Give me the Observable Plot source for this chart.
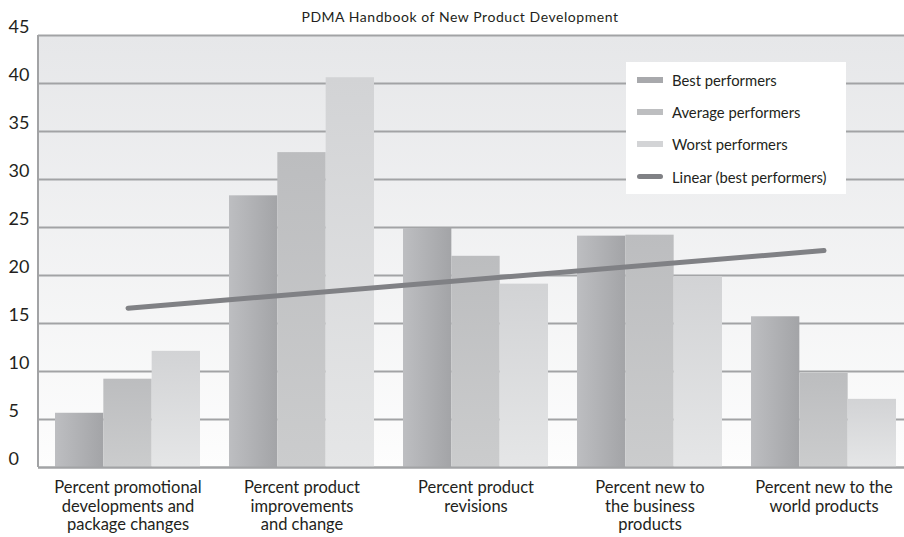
<!DOCTYPE html>
<html>
<head>
<meta charset="utf-8">
<script src="https://cdn.jsdelivr.net/npm/d3@7"></script>
<script src="https://cdn.jsdelivr.net/npm/@observablehq/plot@0.6"></script>
<style>
  body { margin: 0; background: #fff; font-family: Lato, "Open Sans", sans-serif; color: #231f20; }
  #wrap { position: relative; width: 904px; height: 537px; overflow: hidden; }
  #title { position: absolute; left: 8px; top: 8px; width: 904px; text-align: center; font-size: 14px; letter-spacing: 0.55px; line-height: 18px; z-index: 2; }
  #chart { position: absolute; left: 0; top: 0; }
  #legend { position: absolute; left: 626px; top: 62px; width: 220px; height: 132px; background: #fff; z-index: 2; }
  .item { position: absolute; left: 0; height: 20px; width: 220px; font-size: 14.8px; line-height: 20px; }
  .sw { position: absolute; left: 11px; top: 7px; width: 26px; height: 6px; }
  .lab { position: absolute; left: 46px; top: 0; white-space: nowrap; }
</style>
</head>
<body>
<div id="wrap">
  <div id="chart"></div>
  <div id="title"></div>
  <div id="legend"></div>
</div>
<script>
const chartTitle = "PDMA Handbook of New Product Development";
const categories = [
  "Percent promotional\ndevelopments and\npackage changes",
  "Percent product\nimprovements\nand change",
  "Percent product\nrevisions",
  "Percent new to\nthe business\nproducts",
  "Percent new to the\nworld products"
];
const best = [5.65, 28.3, 24.9, 24.1, 15.7];
const average = [9.2, 32.8, 22.0, 24.2, 9.8];
const worst = [12.1, 40.6, 19.1, 19.9, 7.1];
const trendCategories = [categories[0], categories[4]];
const trendValues = [16.6, 22.6];
const yTicks = [0, 5, 10, 15, 20, 25, 30, 35, 40, 45];
const legendLabels = ["Best performers", "Average performers", "Worst performers", "Linear (best performers)"];

const rows = categories.map((c, i) => ({cat: c, best: best[i], average: average[i], worst: worst[i]}));
const trend = trendCategories.map((c, i) => ({cat: c, v: trendValues[i]}));

document.getElementById("title").textContent = chartTitle;

function grad(defs, id, vertical, stops) {
  const g = defs.append("linearGradient").attr("id", id)
    .attr("x1", 0).attr("y1", 0).attr("x2", vertical ? 0 : 1).attr("y2", vertical ? 1 : 0);
  stops.forEach(([o, c]) => g.append("stop").attr("offset", o).attr("stop-color", c));
}
const defsMark = () => {
  const svg = d3.create("svg:g");
  const defs = svg.append("defs");
  grad(defs, "gBg", true, [[0, "#e6e7e9"], [1, "#fdfdfd"]]);
  grad(defs, "gBest", false, [[0, "#bdbec1"], [1, "#a3a4a7"]]);
  grad(defs, "gAvg", true, [[0, "#bcbdbf"], [1, "#cbcccd"]]);
  grad(defs, "gWorst", true, [[0, "#d2d3d5"], [1, "#e5e6e7"]]);
  return svg.node();
};
const leftBorder = (index, scales, values, dim) => {
  const g = d3.create("svg:g");
  g.append("line")
    .attr("x1", dim.marginLeft).attr("x2", dim.marginLeft)
    .attr("y1", dim.marginTop).attr("y2", dim.height - dim.marginBottom)
    .attr("stroke", "#a2a3a5").attr("stroke-width", 2);
  return g.node();
};

const bw = 48.33;
const plot = Plot.plot({
  width: 904,
  height: 537,
  marginTop: 35,
  marginLeft: 38,
  marginRight: 0,
  marginBottom: 70,
  style: {fontFamily: "Lato, 'Open Sans', sans-serif", color: "#231f20", background: "transparent"},
  x: {domain: categories, paddingInner: 0.168, paddingOuter: 0.069, align: 0.667, label: null},
  y: {domain: [0, 45], label: null},
  marks: [
    defsMark,
    Plot.frame({fill: "url(#gBg)", stroke: "none"}),
    Plot.gridY(yTicks, {stroke: "#a2a3a5", strokeWidth: 2, strokeOpacity: 1}),
    Plot.barY(rows, {x: "cat", y: "best", fill: "url(#gBest)", insetLeft: 0, insetRight: 2 * bw}),
    Plot.barY(rows, {x: "cat", y: "average", fill: "url(#gAvg)", insetLeft: bw, insetRight: bw}),
    Plot.barY(rows, {x: "cat", y: "worst", fill: "url(#gWorst)", insetLeft: 2 * bw, insetRight: 0}),
    Plot.ruleY([0], {stroke: "#a2a3a5", strokeWidth: 2}),
    Plot.line(trend, {x: "cat", y: "v", stroke: "#808185", strokeWidth: 5, strokeLinecap: "round"}),
    leftBorder,
    Plot.axisY(yTicks, {tickSize: 0, tickPadding: 0, textAnchor: "start", dx: -30, dy: -8, fontSize: 18, label: null}),
    Plot.axisX({tickSize: 0, tickPadding: 13, fontSize: 16.5, lineHeight: 1.1, label: null})
  ]
});
document.getElementById("chart").appendChild(plot);

const legend = document.getElementById("legend");
const swatchStyles = [
  "background:#a8a9ac",
  "background:#bdbec0",
  "background:#d3d4d6",
  "background:#808185;height:5px;border-radius:3px"
];
const itemTops = [8, 40, 72, 105];
legendLabels.forEach((l, i) => {
  const it = document.createElement("div");
  it.className = "item";
  it.style.top = itemTops[i] + "px";
  it.innerHTML = `<div class="sw" style="${swatchStyles[i]}"></div><div class="lab"></div>`;
  it.querySelector(".lab").textContent = l;
  legend.appendChild(it);
});
</script>
</body>
</html>
